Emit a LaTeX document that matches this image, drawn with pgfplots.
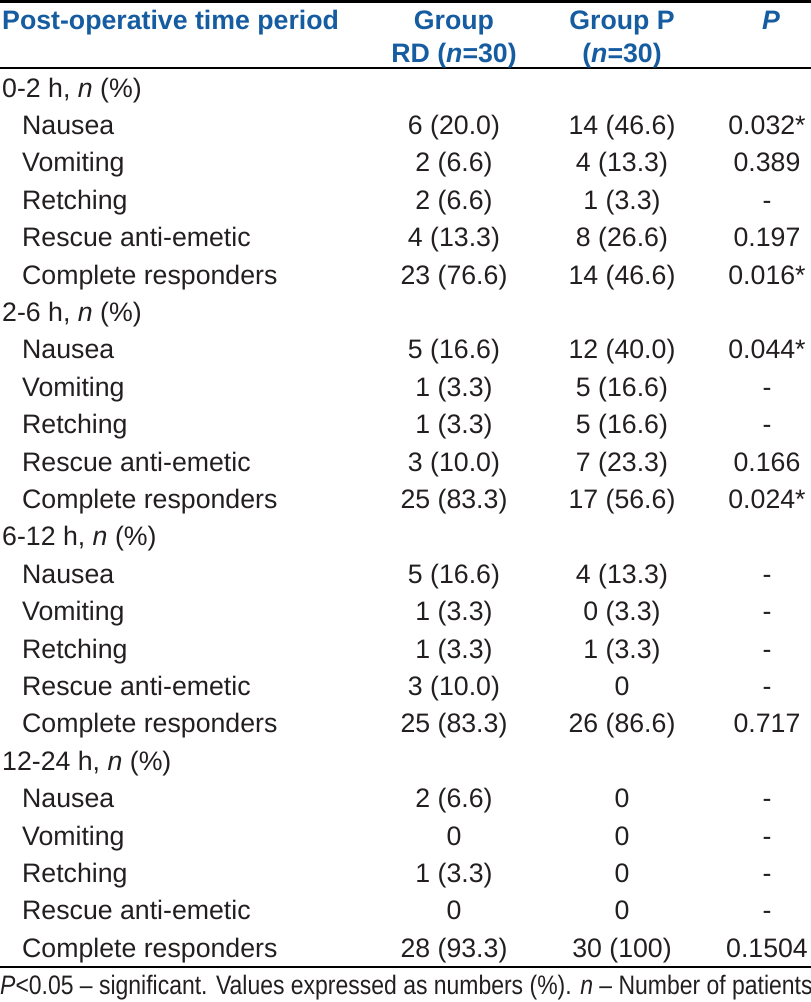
\documentclass[border=0pt]{standalone}
\usepackage{pgfplots}
\pgfplotsset{compat=1.18}
\usepackage{fontspec}
\setmainfont{Liberation Sans}
\definecolor{hdr}{RGB}{22,92,160}
\definecolor{txt}{RGB}{35,31,32}
% column centres and row geometry (pixel units of the reference)
\def\xRD{454}
\def\xGP{622}
\def\xPv{767}
\newcommand{\grp}[2]{\node[anchor=base west,text=txt,inner sep=0pt] at (axis cs:2,{97+37.4*#1}) {#2};}
\newcommand{\row}[5]{%
  \node[anchor=base west,text=txt,inner sep=0pt] at (axis cs:22,{97+37.4*#1}) {#2};
  \node[anchor=base,text=txt,inner sep=0pt] at (axis cs:\xRD,{97+37.4*#1}) {#3};
  \node[anchor=base,text=txt,inner sep=0pt] at (axis cs:\xGP,{97+37.4*#1}) {#4};
  \node[anchor=base,text=txt,inner sep=0pt] at (axis cs:\xPv,{97+37.4*#1}) {#5};}
\begin{document}
\begin{tikzpicture}
\fontsize{26.7}{30}\selectfont
\begin{axis}[
  width=811pt, height=1002pt, scale only axis,
  xmin=0, xmax=811, ymin=0, ymax=1002, y dir=reverse,
  hide axis, clip=false,
]
% rules
\addplot[black, line width=3pt, forget plot] coordinates {(0,1.5) (811,1.5)};
\addplot[black, line width=2pt, forget plot] coordinates {(0,68) (811,68)};
\addplot[black, line width=2pt, forget plot] coordinates {(0,967) (811,967)};
% header
\node[anchor=base west,text=hdr,inner sep=0pt,font=\bfseries] at (axis cs:2,29) {Post-operative time period};
\node[anchor=base,text=hdr,inner sep=0pt,font=\bfseries] at (axis cs:\xRD,29) {Group};
\node[anchor=base,text=hdr,inner sep=0pt,font=\bfseries] at (axis cs:\xRD,62) {RD (\textit{n}=30)};
\node[anchor=base,text=hdr,inner sep=0pt,font=\bfseries] at (axis cs:\xGP,29) {Group P};
\node[anchor=base,text=hdr,inner sep=0pt,font=\bfseries] at (axis cs:\xGP,62) {(\textit{n}=30)};
\node[anchor=base,text=hdr,inner sep=0pt,font=\bfseries\itshape] at (axis cs:771,29) {P};
% body
\grp{0}{0-2 h, \textit{n} (\%)}
\row{1}{Nausea}{6 (20.0)}{14 (46.6)}{0.032*}
\row{2}{Vomiting}{2 (6.6)}{4 (13.3)}{0.389}
\row{3}{Retching}{2 (6.6)}{1 (3.3)}{-}
\row{4}{Rescue anti-emetic}{4 (13.3)}{8 (26.6)}{0.197}
\row{5}{Complete responders}{23 (76.6)}{14 (46.6)}{0.016*}
\grp{6}{2-6 h, \textit{n} (\%)}
\row{7}{Nausea}{5 (16.6)}{12 (40.0)}{0.044*}
\row{8}{Vomiting}{1 (3.3)}{5 (16.6)}{-}
\row{9}{Retching}{1 (3.3)}{5 (16.6)}{-}
\row{10}{Rescue anti-emetic}{3 (10.0)}{7 (23.3)}{0.166}
\row{11}{Complete responders}{25 (83.3)}{17 (56.6)}{0.024*}
\grp{12}{6-12 h, \textit{n} (\%)}
\row{13}{Nausea}{5 (16.6)}{4 (13.3)}{-}
\row{14}{Vomiting}{1 (3.3)}{0 (3.3)}{-}
\row{15}{Retching}{1 (3.3)}{1 (3.3)}{-}
\row{16}{Rescue anti-emetic}{3 (10.0)}{0}{-}
\row{17}{Complete responders}{25 (83.3)}{26 (86.6)}{0.717}
\grp{18}{12-24 h, \textit{n} (\%)}
\row{19}{Nausea}{2 (6.6)}{0}{-}
\row{20}{Vomiting}{0}{0}{-}
\row{21}{Retching}{1 (3.3)}{0}{-}
\row{22}{Rescue anti-emetic}{0}{0}{-}
\row{23}{Complete responders}{28 (93.3)}{30 (100)}{0.1504}
% footnote
\node[anchor=base west,text=txt,inner sep=0pt] at (axis cs:0,994) {\scalebox{0.86}[1]{\textit{P}<0.05 – significant. Values expressed as numbers (\%). \textit{n} – Number of patients}};
\end{axis}
\pgfresetboundingbox
\path (current axis.south west) rectangle (current axis.north east);
\end{tikzpicture}
\end{document}
